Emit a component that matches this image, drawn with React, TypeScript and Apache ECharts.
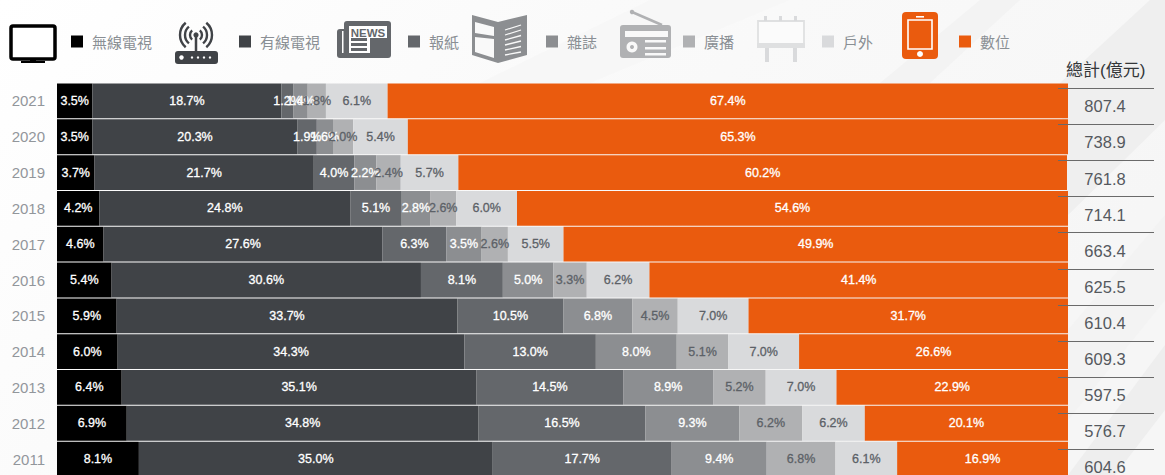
import React, { useEffect, useRef } from "react";
import * as echarts from "echarts";

const years = ["2021","2020","2019","2018","2017","2016","2015","2014","2013","2012","2011"];
const totals = ["807.4","738.9","761.8","714.1","663.4","625.5","610.4","609.3","597.5","576.7","604.6"];
const wireless = [3.5,3.5,3.7,4.2,4.6,5.4,5.9,6.0,6.4,6.9,8.1];
const cable = [18.7,20.3,21.7,24.8,27.6,30.6,33.7,34.3,35.1,34.8,35.0];
const newspaper = [1.2,1.9,4.0,5.1,6.3,8.1,10.5,13.0,14.5,16.5,17.7];
const magazine = [1.4,1.6,2.2,2.8,3.5,5.0,6.8,8.0,8.9,9.3,9.4];
const radio = [1.8,2.0,2.4,2.6,2.6,3.3,4.5,5.1,5.2,6.2,6.8];
const outdoor = [6.1,5.4,5.7,6.0,5.5,6.2,7.0,7.0,7.0,6.2,6.1];
const digital = [67.4,65.3,60.2,54.6,49.9,41.4,31.7,26.6,22.9,20.1,16.9];

const C = { wireless:"#000000", cable:"#404347", newspaper:"#64676b", magazine:"#8c8e91", radio:"#b0b1b3", outdoor:"#d9dadc", digital:"#ea5b0e" };
const BG = "#f9f9f9";
const seriesDefs = [
  { name:"無線電視", data:wireless, color:C.wireless, label:"#ffffff", sq:71 },
  { name:"有線電視", data:cable, color:C.cable, label:"#ffffff", sq:239 },
  { name:"報紙", data:newspaper, color:C.newspaper, label:"#ffffff", sq:408 },
  { name:"雜誌", data:magazine, color:C.magazine, label:"#ffffff", sq:546 },
  { name:"廣播", data:radio, color:C.radio, label:"#5c6167", sq:683 },
  { name:"戶外", data:outdoor, color:C.outdoor, label:"#5c6167", sq:822 },
  { name:"數位", data:digital, color:C.digital, label:"#ffffff", sq:959 },
];

const fill = (c: string) => ({ fill: c, stroke: "none" });
const rect = (x:number,y:number,width:number,height:number,c:string,r=0) => ({ type:"rect", shape:{x,y,width,height,r}, style:fill(c), silent:true });
const line = (x1:number,y1:number,x2:number,y2:number,c:string,w:number) => ({ type:"line", shape:{x1,y1,x2,y2}, style:{stroke:c,lineWidth:w}, silent:true });
const circle = (cx:number,cy:number,r:number,c:string) => ({ type:"circle", shape:{cx,cy,r}, style:fill(c), silent:true });
const poly = (points:number[][],c:string) => ({ type:"polygon", shape:{points}, style:fill(c), silent:true });
const arc = (cx:number,cy:number,r:number,a:number,b:number,c:string,w:number) => ({ type:"arc", shape:{cx,cy,r,startAngle:a*Math.PI/180,endAngle:b*Math.PI/180,clockwise:true}, style:{stroke:c,lineWidth:w,fill:"none"}, silent:true });

const background = [
  { type:"rect", shape:{x:0,y:0,width:1165,height:475}, style:{ fill:new echarts.graphic.LinearGradient(0,0,1,0.4,[{offset:0,color:"#ffffff"},{offset:0.45,color:"#fafafa"},{offset:1,color:"#f6f6f6"}]) }, silent:true },
  poly([[480,83],[650,0],[790,0],[590,83]],"#f7f7f7"),
  poly([[880,83],[980,0],[1020,0],[930,83]],"#f3f3f3"),
  poly([[1060,83],[1150,0],[1165,0],[1165,120],[1068,215]],"#efefef"),
  poly([[1068,330],[1165,215],[1165,300],[1068,420]],"#f3f3f3"),
  poly([[1068,475],[1165,345],[1165,410],[1115,475]],"#eeeeee"),
];

const D = C.cable, N = C.newspaper, M = C.magazine, R = C.radio, O = C.outdoor;
const icons = [
  // TV
  { type:"rect", shape:{x:11,y:26,width:44,height:33,r:2}, style:{stroke:"#000",lineWidth:3.5,fill:"#fff"}, silent:true },
  rect(30,59,6,3,"#000"), rect(21,61,24,2,"#000"),
  // Router
  rect(175,51,43,13,D,3), circle(181.5,57.5,2.2,"#fff"),
  circle(192,57.5,1.2,"#fff"), circle(198,57.5,1.2,"#fff"), circle(204,57.5,1.2,"#fff"), circle(210,57.5,1.2,"#fff"),
  line(196,36,196,51,D,2.5), circle(196,35,2.6,D),
  arc(196,35,6,-50,50,D,2.4), arc(196,35,6,130,230,D,2.4),
  arc(196,35,11,-50,50,D,2.4), arc(196,35,11,130,230,D,2.4),
  arc(196,35,16,-50,50,D,2.4), arc(196,35,16,130,230,D,2.4),
  // Newspaper
  rect(337,29,13,29,N,3), rect(344,21,47,37,N,3),
  rect(342,31,1.5,22,"#ffffff"),
  rect(349,26,38,27,"#ffffff"),
  { type:"text", x:368, y:32.5, style:{ text:"NEWS", fill:N, font:"bold 11.5px 'Liberation Sans'", align:"center", verticalAlign:"middle" }, silent:true },
  rect(351,38,16,3,N), rect(351,43,16,3,N), rect(351,48,16,3,N), rect(370,38,17,15,N),
  // Magazine
  poly([[472,15],[498,22],[527,15],[527,55],[498,63],[472,55]],M),
  poly([[475,22],[494,27],[494,36],[475,33]],BG), poly([[475,37],[494,39],[494,58],[475,52]],BG),
  line(505,30,521,25,BG,1.3), line(505,35,521,30,BG,1.3), line(505,40,521,35.5,BG,1.3),
  line(505,45,521,41,BG,1.3), line(505,50,521,46.5,BG,1.3), line(505,55,521,52,BG,1.3),
  // Radio
  line(632,12,662,25,R,2.5), circle(632,12,2.2,R), rect(620,25,51,33,R,3),
  rect(625,31,43,6,BG), circle(632,47,5.5,BG), circle(632,47,2,R),
  rect(645,40,21,2.5,BG), rect(645,47,21,2.5,BG), rect(645,53,21,2.5,BG),
  // Billboard
  { type:"rect", shape:{x:758,y:21,width:46,height:26}, style:{stroke:"#dfe0e1",lineWidth:1.8,fill:"#fbfbfb"}, silent:true },
  rect(764,16,3,5,O), rect(779,16,3,5,O), rect(794,16,3,5,O), rect(757,43,48,5,"#dfe0e1"),
  rect(765,48,4,14,O), rect(793,48,4,14,O),
  // Phone
  rect(902,12,36,47,C.digital,4),
  { type:"rect", shape:{x:908,y:20,width:24,height:29}, style:{stroke:"#fff",lineWidth:1.6,fill:"none"}, silent:true },
  rect(916,16,8,1.6,"#fff"), circle(920,54,3,"#fff"),
];

const option = {
  animation:false,
  backgroundColor:"transparent",
  textStyle:{ fontFamily:"'Liberation Sans', Arial, sans-serif" },
  title:{ text:"總計(億元)", left:1066, top:62, padding:0, textStyle:{ fontSize:17, fontWeight:"normal", color:"#333639", fontFamily:"'Liberation Sans','Noto Sans CJK TC',sans-serif" } },
  legend: seriesDefs.map(s => ({
    show:true, data:[s.name], left:s.sq, top:34, padding:0, itemWidth:12, itemHeight:12, icon:"rect", selectedMode:false,
    textStyle:{ color:"#8a8f94", fontSize:15, fontFamily:"'Noto Sans CJK TC',sans-serif", padding:[0,0,0,4] },
  })),
  graphic:{ elements:[
    { type:"group", z:-10, silent:true, children:background },
    { type:"group", z:10, silent:true, children:icons },
  ] },
  grid:[
    { left:57, top:83, width:1011, height:394, outerBoundsMode:"none" },
    { left:1058, top:88.3, width:96, height:397.1, outerBoundsMode:"none" },
  ],
  xAxis:[
    { type:"value", gridIndex:0, min:0, max:100, show:false },
    { type:"value", gridIndex:1, min:0, max:1, show:false },
  ],
  yAxis:[
    { type:"category", gridIndex:0, inverse:true, data:years, axisLine:{show:false}, axisTick:{show:false}, splitLine:{show:false},
      axisLabel:{ color:"#92969b", fontSize:15, margin:12 } },
    { type:"category", gridIndex:1, inverse:true, data:totals, z:6, axisLine:{show:false}, axisTick:{show:false},
      splitLine:{ show:true, lineStyle:{ color:"#6a6a6a", width:1 } },
      axisLabel:{ color:"#55595e", fontSize:16.5, margin:-47, align:"center", interval:0 } },
  ],
  series: seriesDefs.map(s => ({
    name:s.name, type:"bar", stack:"share", xAxisIndex:0, yAxisIndex:0, data:s.data, barWidth:34.8,
    itemStyle:{ color:s.color },
    label:{ show:true, position:"inside", color:s.label, fontSize:12.5, textBorderColor:s.label, textBorderWidth:0.3, formatter:(p:any)=>p.value.toFixed(1)+"%" },
    z:2,
  })),
};

export default function App() {
  const ref = useRef<HTMLDivElement>(null);
  useEffect(() => {
    document.body.style.margin = "0";
    const chart = echarts.init(ref.current!, undefined, { renderer:"svg" });
    chart.setOption(option as any);
    return () => chart.dispose();
  }, []);
  return <div ref={ref} style={{ width:1165, height:475, overflow:"hidden" }} />;
}
